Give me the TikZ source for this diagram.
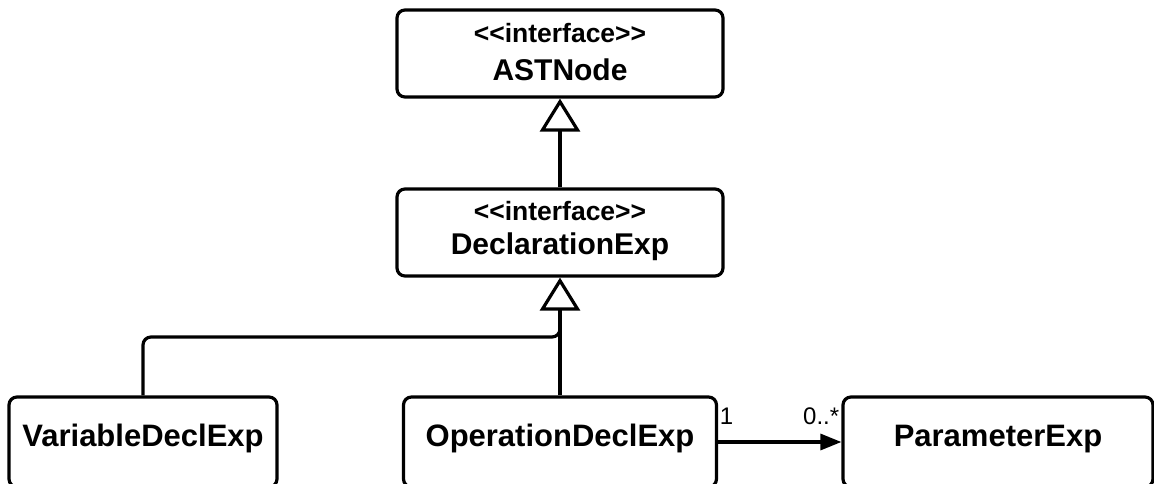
\documentclass[tikz,border=0pt]{standalone}
\usepackage{fontspec}
\setmainfont{Liberation Sans}[Ligatures=TeXOff]
\usetikzlibrary{arrows.meta}

\tikzset{
  umlbox/.style={draw, line width=3.2pt, rounded corners=8pt, inner sep=0pt},
  stereo/.style={inner sep=0pt, font=\fontsize{26.5}{30}\selectfont\bfseries},
  topname/.style={inner sep=0pt, font=\fontsize{30}{34}\selectfont\bfseries},
  botname/.style={inner sep=0pt, font=\fontsize{31}{36}\selectfont\bfseries},
  mult/.style={inner sep=0pt, font=\fontsize{24}{28}\selectfont},
  link/.style={line width=3.2pt},
  inherits/.style={link, -{Triangle[fill=white, length=33pt, width=40pt]}},
  assoc/.style={link, -{Triangle[length=21pt, width=16pt]}}
}

\begin{document}
\begin{tikzpicture}[x=1pt, y=-1pt]
  \useasboundingbox (0,0) rectangle (1154,483);

  % class boxes
  \node[umlbox, minimum width=326pt, minimum height=87pt] (ast)   at (560,53.5) {};
  \node[umlbox, minimum width=326pt, minimum height=87pt] (decl)  at (560,232.5) {};
  \node[umlbox, minimum width=268pt, minimum height=90pt] (var)   at (143,442) {};
  \node[umlbox, minimum width=313pt, minimum height=90pt] (op)    at (560,442) {};
  \node[umlbox, minimum width=310pt, minimum height=90pt] (param) at (998,442) {};

  % box texts
  \node[stereo,  anchor=base] (astS)   at ([yshift=-34pt]ast.north)  {<\kern0pt<interface>\kern0pt>};
  \node[topname, anchor=base] (astN)   at ([yshift=-72pt]ast.north)  {ASTNode};
  \node[stereo,  anchor=base] (declS)  at ([yshift=-33pt]decl.north) {<\kern0pt<interface>\kern0pt>};
  \node[topname, anchor=base] (declN)  at ([yshift=-67pt]decl.north) {DeclarationExp};
  \node[botname, anchor=base] (varN)   at ([yshift=-51pt]var.north)   {VariableDeclExp};
  \node[botname, anchor=base] (opN)    at ([yshift=-51pt]op.north)    {OperationDeclExp};
  \node[botname, anchor=base] (paramN) at ([yshift=-51pt]param.north) {ParameterExp};

  % generalisations
  \draw[inherits] (decl.north) -- (ast.south);
  \draw[inherits] (op.north) -- (decl.south);
  \coordinate (joint)   at (560,337);
  \coordinate (jointup) at (560,320);
  \draw[link, rounded corners=8pt] (var.north) |- (joint) -- (jointup);

  % association with multiplicities
  \draw[assoc] (op.east) -- (param.west);
  \node[mult, anchor=base west] (m1) at ([xshift=1.5pt, yshift=18pt]op.east)     {1};
  \node[mult, anchor=base east] (m2) at ([xshift=-2pt, yshift=18pt]param.west) {0..*};
\end{tikzpicture}
\end{document}
